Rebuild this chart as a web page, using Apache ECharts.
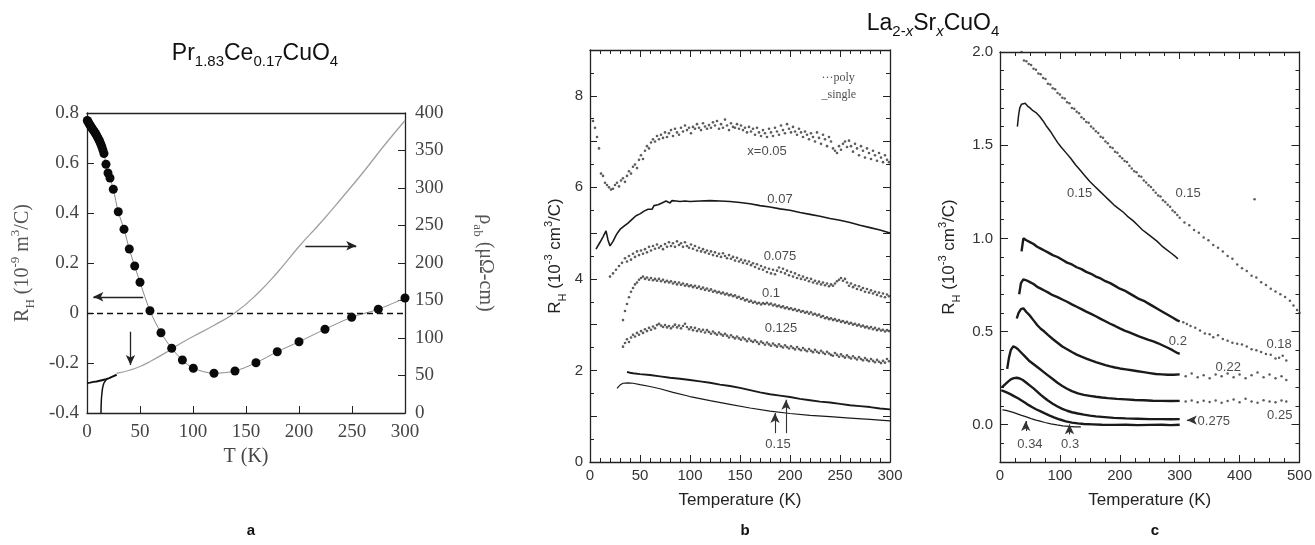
<!DOCTYPE html>
<html><head><meta charset="utf-8">
<script src="https://cdn.jsdelivr.net/npm/echarts@6/dist/echarts.min.js"></script>
<style>html,body{margin:0;padding:0;background:#fff}#c{width:1315px;height:545px}</style>
</head><body><div id="c"></div>
<script>
// ---------- Panel a : Pr1.83Ce0.17CuO4 ----------
const aDotT  = [0.3,1,2,3,4,5,6,7,8,9,10,11,12,13,14,15,16,17.9,19.8,21.7,24.8,29.5,34.9,39.9,45,50,59.4,69.8,79.9,90,100.3,119.8,139.6,159.4,179.5,200,224.5,249.7,274.8,300];
const aDotRH = [0.77,0.765,0.757,0.75,0.744,0.737,0.731,0.725,0.718,0.711,0.703,0.695,0.686,0.676,0.665,0.652,0.638,0.595,0.56,0.54,0.495,0.405,0.335,0.256,0.188,0.123,0.009,-0.079,-0.141,-0.188,-0.221,-0.241,-0.232,-0.199,-0.155,-0.115,-0.065,-0.017,0.015,0.06];
const aRhoT  = [28,40,50,60,75,85,100,120,140,160,180,200,220,240,260,280,300];
const aRho   = [53,57,62,69,81,90,102,117,134,158,188,222,253,286,320,356,390];
const aRhoLowT = [0,3,6,9,12,15,18,21,24,28];
const aRhoLow  = [40,40.5,41.5,42,43,44,45,46.5,48.5,51];
const aDropT = [18,15.5,14,13.4,13.2];
const aDrop  = [44,38,25,12,0];
const aTicksLeft = [-0.4,0.8,0.2];
const aTicksRight = [0,400,50];

// ---------- Panel b : La2-xSrxCuO4, 0..300 K ----------
const b005 = [[3,7.45],[5,7.3],[7,7.1],[9,6.85],[11,6.3],[13,6.25],[15,6.1],[17,6.05],[19,6.0],[21,5.95],[23,5.97],[25,6.05],[27,6.1],[29,6.02],[31,6.15],[33,6.2],[35,6.12],[37,6.25],[39,6.35],[41,6.3],[43,6.45],[45,6.5],[47,6.42],[49,6.6],[51,6.7],[53,6.62],[55,6.8],[57,6.9],[59,6.85],[61,6.98],[63,7.05],[65,7.0],[67,7.12],[69,7.05],[71,7.15],[73,7.08],[75,7.2],[77,7.1],[79,7.18],[81,7.25],[83,7.12],[85,7.28],[87,7.2],[89,7.15],[91,7.3],[93,7.22],[95,7.35],[97,7.25],[99,7.3],[101,7.18],[103,7.32],[105,7.28],[107,7.38],[109,7.3],[111,7.25],[113,7.4],[115,7.33],[117,7.28],[119,7.36],[121,7.3],[123,7.42],[125,7.35],[127,7.45],[129,7.28],[131,7.38],[133,7.3],[135,7.48],[137,7.35],[139,7.25],[141,7.4],[143,7.32],[145,7.3],[147,7.38],[149,7.28],[151,7.35],[153,7.25],[155,7.3],[157,7.2],[159,7.32],[161,7.22],[163,7.28],[165,7.15],[167,7.3],[169,7.2],[171,7.12],[173,7.25],[175,7.18],[177,7.1],[179,7.28],[181,7.2],[183,7.12],[185,7.3],[187,7.22],[189,7.15],[191,7.35],[193,7.25],[195,7.18],[197,7.38],[199,7.28],[201,7.2],[203,7.32],[205,7.22],[207,7.15],[209,7.28],[211,7.2],[213,7.1],[215,7.22],[217,7.15],[219,7.05],[221,7.18],[223,7.1],[225,7.0],[227,7.2],[229,7.08],[231,6.95],[233,7.15],[235,7.05],[237,6.9],[239,7.1],[241,7.0],[243,6.85],[245,6.8],[247,6.75],[249,6.9],[251,6.82],[253,6.95],[255,7.0],[257,6.88],[259,7.02],[261,6.9],[263,6.78],[265,6.95],[267,6.85],[269,6.7],[271,6.9],[273,6.8],[275,6.65],[277,6.85],[279,6.75],[281,6.62],[283,6.8],[285,6.7],[287,6.58],[289,6.75],[291,6.65],[293,6.55],[295,6.7],[297,6.6],[299,6.55]];
const b007 = [[6,4.65],[10,4.8],[13,4.92],[16,5.05],[18,4.85],[20,4.72],[23,4.82],[26,4.95],[28,5.02],[30,5.08],[32,5.05],[34,5.15],[36,5.12],[38,5.22],[40,5.18],[42,5.3],[44,5.26],[46,5.38],[48,5.34],[50,5.42],[52,5.38],[54,5.48],[56,5.45],[58,5.52],[60,5.55],[62,5.52],[64,5.6],[66,5.58],[68,5.62],[70,5.6],[72,5.66],[74,5.63],[76,5.7],[78,5.68],[80,5.66],[82,5.71],[84,5.68],[86,5.7],[88,5.67],[90,5.69],[95,5.7],[100,5.69],[110,5.7],[120,5.71],[130,5.7],[140,5.69],[150,5.67],[160,5.64],[170,5.6],[180,5.57],[190,5.53],[200,5.5],[210,5.45],[220,5.41],[230,5.37],[240,5.32],[250,5.28],[260,5.23],[270,5.17],[280,5.12],[290,5.07],[300,5.0]];
const b0075 = [[20,4.05],[23,4.12],[26,4.2],[29,4.28],[32,4.35],[35,4.45],[37,4.38],[39,4.5],[41,4.42],[43,4.55],[45,4.48],[47,4.6],[49,4.52],[51,4.62],[53,4.55],[55,4.65],[57,4.58],[59,4.7],[61,4.62],[63,4.72],[65,4.66],[67,4.75],[69,4.68],[71,4.72],[73,4.65],[75,4.76],[77,4.7],[79,4.8],[81,4.72],[83,4.78],[85,4.7],[87,4.82],[89,4.74],[91,4.78],[93,4.7],[95,4.8],[97,4.72],[99,4.68],[101,4.75],[103,4.66],[105,4.72],[107,4.62],[109,4.68],[111,4.6],[113,4.65],[115,4.58],[117,4.62],[119,4.55],[121,4.6],[123,4.52],[125,4.58],[127,4.5],[129,4.55],[131,4.48],[133,4.56],[135,4.5],[137,4.45],[139,4.52],[141,4.44],[143,4.48],[145,4.4],[147,4.46],[149,4.38],[151,4.42],[153,4.35],[155,4.4],[157,4.33],[159,4.38],[161,4.3],[163,4.34],[165,4.26],[167,4.32],[169,4.22],[171,4.28],[173,4.2],[175,4.25],[177,4.15],[179,4.22],[181,4.12],[183,4.2],[185,4.1],[187,4.18],[189,4.25],[191,4.15],[193,4.22],[195,4.12],[197,4.18],[199,4.08],[201,4.15],[203,4.05],[205,4.12],[207,4.02],[209,4.08],[211,4.0],[213,4.05],[215,3.98],[217,4.02],[219,3.95],[221,4.0],[223,3.92],[225,3.96],[227,3.9],[229,3.94],[231,3.88],[233,3.92],[235,3.86],[237,3.9],[239,3.84],[241,3.88],[243,3.85],[245,3.9],[247,3.95],[249,3.98],[251,4.02],[253,3.96],[255,4.0],[257,3.92],[259,3.85],[261,3.9],[263,3.82],[265,3.86],[267,3.78],[269,3.84],[271,3.76],[273,3.8],[275,3.72],[277,3.78],[279,3.7],[281,3.75],[283,3.68],[285,3.72],[287,3.65],[289,3.7],[291,3.62],[293,3.68],[295,3.6],[297,3.66],[299,3.62]];
const b01 = [[33,3.1],[35,3.3],[37,3.45],[39,3.6],[41,3.72],[43,3.8],[45,3.88],[47,3.92],[49,3.98],[51,4.02],[53,4.05],[55,4.0],[57,4.03],[59,3.98],[61,4.02],[63,3.97],[65,4.0],[67,3.96],[69,4.0],[71,3.95],[73,3.98],[75,3.93],[77,3.96],[79,3.92],[81,3.95],[83,3.9],[85,3.93],[87,3.88],[89,3.92],[91,3.87],[93,3.9],[95,3.85],[97,3.88],[99,3.84],[101,3.86],[103,3.82],[105,3.85],[107,3.8],[109,3.83],[111,3.78],[113,3.81],[115,3.76],[117,3.79],[119,3.74],[121,3.77],[123,3.72],[125,3.74],[127,3.7],[129,3.72],[131,3.68],[133,3.7],[135,3.66],[137,3.68],[139,3.64],[141,3.66],[143,3.62],[145,3.64],[147,3.59],[149,3.61],[151,3.56],[153,3.58],[155,3.53],[157,3.55],[159,3.5],[161,3.52],[163,3.48],[165,3.5],[167,3.46],[169,3.48],[171,3.44],[173,3.47],[175,3.45],[177,3.48],[179,3.44],[181,3.46],[183,3.42],[185,3.44],[187,3.4],[189,3.42],[191,3.38],[193,3.4],[195,3.36],[197,3.38],[199,3.34],[201,3.36],[203,3.32],[205,3.34],[207,3.3],[209,3.32],[211,3.28],[213,3.3],[215,3.26],[217,3.28],[219,3.24],[221,3.27],[223,3.22],[225,3.24],[227,3.2],[229,3.22],[231,3.17],[233,3.19],[235,3.14],[237,3.16],[239,3.12],[241,3.14],[243,3.1],[245,3.12],[247,3.08],[249,3.1],[251,3.06],[253,3.08],[255,3.04],[257,3.06],[259,3.02],[261,3.04],[263,3.0],[265,3.02],[267,2.98],[269,3.0],[271,2.96],[273,2.98],[275,2.94],[277,2.96],[279,2.92],[281,2.95],[283,2.9],[285,2.93],[287,2.88],[289,2.91],[291,2.87],[293,2.89],[295,2.85],[297,2.88],[299,2.86]];
const b0125 = [[33,2.52],[35,2.6],[37,2.68],[39,2.62],[41,2.72],[43,2.78],[45,2.74],[47,2.82],[49,2.78],[51,2.86],[53,2.82],[55,2.9],[57,2.86],[59,2.93],[61,2.89],[63,2.96],[65,2.92],[67,2.99],[69,3.02],[71,2.98],[73,2.95],[75,2.99],[77,2.94],[79,2.97],[81,2.92],[83,2.96],[85,3.0],[87,2.94],[89,2.98],[91,2.92],[93,2.97],[95,3.02],[97,2.95],[99,2.9],[101,2.94],[103,2.88],[105,2.93],[107,2.86],[109,2.9],[111,2.85],[113,2.89],[115,2.83],[117,2.88],[119,2.84],[121,2.8],[123,2.85],[125,2.81],[127,2.78],[129,2.83],[131,2.79],[133,2.76],[135,2.8],[137,2.76],[139,2.72],[141,2.77],[143,2.73],[145,2.7],[147,2.74],[149,2.7],[151,2.67],[153,2.72],[155,2.68],[157,2.64],[159,2.69],[161,2.65],[163,2.62],[165,2.66],[167,2.62],[169,2.58],[171,2.63],[173,2.6],[175,2.56],[177,2.61],[179,2.57],[181,2.54],[183,2.59],[185,2.55],[187,2.52],[189,2.57],[191,2.53],[193,2.5],[195,2.55],[197,2.51],[199,2.48],[201,2.53],[203,2.49],[205,2.46],[207,2.51],[209,2.47],[211,2.44],[213,2.49],[215,2.45],[217,2.42],[219,2.47],[221,2.43],[223,2.4],[225,2.45],[227,2.41],[229,2.38],[231,2.43],[233,2.39],[235,2.36],[237,2.41],[239,2.37],[241,2.34],[243,2.32],[245,2.38],[247,2.34],[249,2.3],[251,2.35],[253,2.31],[255,2.28],[257,2.33],[259,2.29],[261,2.26],[263,2.31],[265,2.27],[267,2.24],[269,2.29],[271,2.25],[273,2.22],[275,2.27],[277,2.23],[279,2.2],[281,2.25],[283,2.21],[285,2.18],[287,2.23],[289,2.19],[291,2.16],[293,2.21],[295,2.17],[297,2.25],[299,2.2]];
const b015a = [[37,1.97],[40,1.95],[43,1.94],[50,1.92],[60,1.9],[70,1.87],[80,1.84],[90,1.82],[100,1.79],[110,1.76],[120,1.73],[130,1.69],[140,1.66],[150,1.62],[160,1.57],[170,1.52],[180,1.48],[190,1.45],[200,1.42],[210,1.38],[220,1.35],[230,1.32],[240,1.3],[250,1.27],[260,1.24],[270,1.22],[280,1.2],[290,1.17],[300,1.15]];
const b015b = [[27,1.61],[30,1.68],[33,1.72],[38,1.73],[43,1.72],[50,1.69],[60,1.65],[70,1.6],[83,1.52],[100,1.43],[120,1.34],[140,1.26],[160,1.18],[180,1.11],[200,1.06],[220,1.02],[240,0.99],[260,0.96],[280,0.93],[300,0.9]];
const bLabels = [['x=0.05',177,6.78],['0.07',190,5.73],['0.075',190,4.5],['0.1',181,3.69],['0.125',191,2.92],['0.15',188,0.39]];
const bLegend = [['···poly',231,8.39],['_single',231,8.02]];

// ---------- Panel c : La2-xSrxCuO4, 0..500 K ----------
const c015p = [[36,2.0],[40,1.955],[44,1.95],[48,1.935],[52,1.93],[56,1.91],[60,1.905],[64,1.885],[68,1.88],[72,1.86],[76,1.855],[80,1.83],[84,1.825],[88,1.805],[92,1.8],[96,1.78],[100,1.772],[104,1.755],[108,1.75],[112,1.73],[116,1.725],[120,1.7],[124,1.695],[128,1.68],[132,1.672],[136,1.65],[140,1.64],[144,1.625],[148,1.62],[152,1.6],[156,1.59],[160,1.575],[164,1.565],[168,1.545],[172,1.54],[176,1.52],[180,1.51],[184,1.49],[188,1.485],[192,1.465],[196,1.46],[200,1.44],[204,1.43],[208,1.415],[212,1.41],[216,1.39],[220,1.375],[224,1.36],[228,1.355],[232,1.335],[236,1.33],[240,1.31],[244,1.3],[248,1.285],[252,1.275],[256,1.26],[260,1.245],[264,1.23],[268,1.225],[272,1.205],[276,1.195],[280,1.18],[284,1.17],[288,1.15],[292,1.14],[296,1.125],[300,1.11],[308,1.085],[316,1.07],[324,1.045],[332,1.03],[340,1.005],[348,0.99],[356,0.965],[364,0.95],[372,0.93],[380,0.905],[388,0.89],[396,0.86],[404,0.84],[412,0.825],[420,0.8],[425,1.21],[428,0.79],[436,0.765],[444,0.75],[452,0.73],[460,0.715],[468,0.7],[476,0.685],[484,0.665],[490,0.64],[496,0.615],[500,0.6]];
const c015s = [[29,1.6],[31,1.66],[33,1.7],[36,1.72],[39,1.73],[42,1.725],[46,1.71],[50,1.7],[55,1.685],[60,1.675],[66,1.655],[72,1.63],[78,1.6],[84,1.575],[90,1.545],[96,1.515],[102,1.49],[110,1.46],[118,1.43],[126,1.395],[134,1.365],[142,1.335],[150,1.305],[158,1.28],[166,1.255],[174,1.23],[182,1.205],[190,1.18],[198,1.16],[206,1.14],[214,1.115],[222,1.095],[230,1.07],[238,1.045],[246,1.025],[254,1.005],[262,0.985],[270,0.96],[278,0.94],[286,0.92],[292,0.905],[297,0.89]];
const c018 = [[36,0.93],[39,1.0],[44,0.99],[50,0.98],[56,0.97],[62,0.955],[68,0.945],[74,0.935],[80,0.925],[88,0.91],[96,0.9],[104,0.885],[112,0.87],[120,0.86],[128,0.845],[136,0.835],[144,0.82],[152,0.81],[160,0.795],[168,0.785],[176,0.77],[184,0.76],[192,0.745],[200,0.73],[208,0.72],[216,0.705],[224,0.69],[232,0.675],[240,0.665],[248,0.65],[256,0.635],[264,0.62],[272,0.605],[280,0.59],[288,0.575],[296,0.56],[300,0.555]];
const c018hi = [[306,0.55],[312,0.54],[318,0.53],[326,0.52],[334,0.505],[342,0.49],[350,0.485],[356,0.47],[364,0.48],[372,0.46],[380,0.45],[388,0.44],[396,0.435],[404,0.43],[412,0.42],[420,0.405],[428,0.4],[436,0.39],[444,0.38],[452,0.375],[460,0.355],[466,0.36],[472,0.37],[478,0.345]];
const c02 = [[32,0.7],[35,0.76],[39,0.78],[44,0.775],[50,0.765],[56,0.755],[62,0.74],[68,0.73],[74,0.72],[80,0.71],[88,0.695],[96,0.685],[104,0.672],[112,0.66],[120,0.646],[128,0.633],[136,0.62],[144,0.607],[152,0.595],[160,0.582],[168,0.568],[176,0.555],[184,0.542],[192,0.53],[200,0.517],[208,0.505],[216,0.495],[224,0.485],[232,0.474],[240,0.465],[248,0.455],[256,0.447],[264,0.437],[272,0.425],[280,0.413],[288,0.4],[296,0.385],[300,0.38]];
const c022 = [[28,0.57],[31,0.6],[35,0.62],[39,0.625],[44,0.605],[50,0.585],[56,0.56],[62,0.535],[68,0.515],[74,0.5],[80,0.482],[88,0.46],[96,0.44],[104,0.42],[112,0.405],[120,0.39],[128,0.376],[136,0.365],[144,0.355],[152,0.345],[160,0.336],[168,0.328],[176,0.32],[184,0.313],[192,0.307],[200,0.302],[210,0.297],[220,0.292],[230,0.287],[240,0.282],[250,0.277],[260,0.272],[270,0.27],[280,0.268],[290,0.268],[300,0.27]];
const c022hi = [[310,0.26],[320,0.275],[330,0.255],[340,0.265],[350,0.25],[360,0.27],[370,0.26],[380,0.275],[390,0.255],[400,0.27],[410,0.25],[420,0.265],[430,0.28],[440,0.255],[450,0.27],[460,0.25],[470,0.26],[478,0.24]];
const c025 = [[12,0.3],[15,0.36],[18,0.4],[22,0.42],[26,0.415],[30,0.405],[36,0.385],[42,0.365],[48,0.345],[54,0.33],[60,0.315],[66,0.3],[72,0.285],[80,0.265],[88,0.245],[96,0.225],[104,0.208],[112,0.193],[120,0.18],[130,0.168],[140,0.16],[150,0.155],[160,0.15],[170,0.146],[180,0.143],[195,0.139],[210,0.136],[225,0.133],[240,0.131],[255,0.129],[270,0.128],[285,0.127],[300,0.128]];
const c025hi = [[310,0.125],[320,0.13],[330,0.12],[340,0.128],[350,0.122],[360,0.13],[370,0.118],[380,0.127],[390,0.135],[400,0.12],[410,0.14],[420,0.125],[430,0.118],[440,0.132],[450,0.125],[460,0.12],[470,0.13],[478,0.125]];
const c0275 = [[3,0.2],[8,0.215],[13,0.23],[18,0.243],[23,0.25],[28,0.252],[33,0.248],[38,0.24],[44,0.225],[50,0.21],[56,0.195],[62,0.178],[68,0.16],[74,0.145],[80,0.13],[88,0.113],[96,0.098],[104,0.085],[112,0.075],[120,0.067],[130,0.06],[140,0.054],[150,0.049],[160,0.045],[175,0.041],[190,0.037],[210,0.034],[230,0.032],[250,0.03],[270,0.03],[285,0.029],[300,0.03]];
const c03 = [[2,0.185],[6,0.18],[12,0.172],[18,0.163],[24,0.152],[30,0.142],[36,0.13],[42,0.118],[48,0.105],[54,0.094],[60,0.083],[67,0.073],[74,0.062],[82,0.05],[90,0.04],[100,0.028],[110,0.018],[120,0.011],[130,0.007],[140,0.004],[155,0.002],[170,0],[190,-0.001],[210,0],[230,-0.002],[250,-0.001],[270,0],[285,-0.002],[300,0]];
const c034 = [[4,0.08],[10,0.077],[16,0.072],[22,0.066],[29,0.058],[36,0.05],[44,0.042],[52,0.033],[60,0.025],[67,0.019],[75,0.012],[85,0.005],[95,-0.001],[105,-0.006],[115,-0.009],[125,-0.011],[135,-0.012]];
const cLabels = [['0.15',133,1.24],['0.15',314,1.24],['0.2',297,0.447],['0.18',466,0.429],['0.22',381,0.308],['0.25',467,0.05],['0.275',357,0.02],['0.34',50,-0.105],['0.3',117,-0.105]];
const cMajorY = [0,0.5,1,1.5,2];

const pairs = (xs, ys) => xs.map((x, i) => [x, ys[i]]);

const serif = '"Liberation Serif", "DejaVu Serif", serif';
const sans = '"Liberation Sans", Arial, sans-serif';
const ink = '#1a1a1a';

function mark(from, to) {
  return [{coord: from, symbol: 'none'}, {coord: to, symbol: 'arrow', symbolSize: [7, 10]}];
}
function labelSeries(list, xi, yi, font, size, align) {
  return {
    type: 'scatter', xAxisIndex: xi, yAxisIndex: yi, symbolSize: 1, silent: true,
    itemStyle: {color: 'rgba(0,0,0,0)'}, z: 5,
    data: list.map(l => ({name: l[0], value: [l[1], l[2]]})),
    label: {show: true, position: align === 'left' ? 'right' : 'inside', distance: 0, formatter: p => p.name,
      fontFamily: font, fontSize: size, color: '#1c1c1c'}
  };
}
function rhName(font, size, color, exp) {
  return {
    text: '{n|R}{sb|H}{n| (10}{sp|' + exp + '}{n| ' + (exp === '-9' ? 'm' : 'cm') + '}{sp|3}{n|/C)}',
    style: {rich: {
      n: {fontFamily: font, fontSize: size, color: color, lineHeight: size + 8},
      sb: {fontFamily: font, fontSize: Math.round(size * 0.65), color: color, verticalAlign: 'bottom', lineHeight: Math.round(size * 0.7)},
      sp: {fontFamily: font, fontSize: Math.round(size * 0.65), color: color, verticalAlign: 'top', lineHeight: Math.round(size * 0.7)}
    }}
  };
}

const axLine = {show: true, onZero: false, lineStyle: {color: '#222', width: 1.3}};
function mirrorX(grid, max, interval, split) {
  return {gridIndex: grid, type: 'value', position: 'top', min: 0, max: max, interval: interval,
    axisLine: axLine, axisLabel: {show: false}, splitLine: {show: false},
    axisTick: {show: split > 0, inside: true, length: 7, lineStyle: {color: '#222'}},
    minorTick: {show: split > 0, splitNumber: split || 5, length: 4, lineStyle: {color: '#222'}}};
}

const nA = rhName(serif, 20, '#555', '-9');
const nB = rhName(sans, 17, '#222', '-3');
const titleRich = {
  n: {fontFamily: sans, fontSize: 23, fontWeight: 'normal', color: '#111', lineHeight: 30},
  s: {fontFamily: sans, fontSize: 15, fontWeight: 'normal', color: '#111', verticalAlign: 'bottom', lineHeight: 15},
  si: {fontFamily: sans, fontSize: 15, fontWeight: 'normal', fontStyle: 'italic', color: '#111', verticalAlign: 'bottom', lineHeight: 15}
};

const option = {
  animation: false,
  backgroundColor: '#fff',
  title: [
    {text: '{n|Pr}{s|1.83}{n|Ce}{s|0.17}{n|CuO}{s|4}', left: 250, top: 34, textAlign: 'center',
      textStyle: {fontWeight: 'normal', rich: titleRich}},
    {text: '{n|La}{s|2-}{si|x}{n|Sr}{si|x}{n|CuO}{s|4}', left: 928, top: 4, textAlign: 'center',
      textStyle: {fontWeight: 'normal', rich: titleRich}},
    {text: 'a', left: 246, top: 518, textAlign: 'center', textStyle: {fontFamily: sans, fontWeight: 'bold', fontSize: 15, color: '#111'}},
    {text: 'b', left: 740, top: 518, textAlign: 'center', textStyle: {fontFamily: sans, fontWeight: 'bold', fontSize: 15, color: '#111'}},
    {text: 'c', left: 1150, top: 518, textAlign: 'center', textStyle: {fontFamily: sans, fontWeight: 'bold', fontSize: 15, color: '#111'}}
  ],
  grid: [
    {left: 87, top: 113, width: 318, height: 300},
    {left: 590, top: 50, width: 300, height: 412},
    {left: 1000, top: 52, width: 300, height: 410}
  ],
  xAxis: [
    {gridIndex: 0, type: 'value', min: 0, max: 300, interval: 50, axisLine: axLine, splitLine: {show: false},
      axisTick: {inside: true, length: 7, lineStyle: {color: '#222'}},
      axisLabel: {fontFamily: serif, fontSize: 19, color: '#444', margin: 10},
      name: 'T (K)', nameLocation: 'middle', nameGap: 34, nameTextStyle: {fontFamily: serif, fontSize: 20, color: '#444'}},
    mirrorX(0, 300, 50, 0),
    {gridIndex: 1, type: 'value', min: 0, max: 300, interval: 50, axisLine: axLine, splitLine: {show: false},
      axisTick: {inside: true, length: 7, lineStyle: {color: '#222'}},
      minorTick: {show: true, splitNumber: 5, length: 4, lineStyle: {color: '#222'}},
      axisLabel: {fontFamily: sans, fontSize: 15, color: '#333', margin: 6},
      name: 'Temperature (K)', nameLocation: 'middle', nameGap: 30, nameTextStyle: {fontFamily: sans, fontSize: 17, color: '#222'}},
    mirrorX(1, 300, 50, 5),
    {gridIndex: 2, type: 'value', min: 0, max: 500, interval: 100, axisLine: axLine, splitLine: {show: false},
      axisTick: {inside: true, length: 7, lineStyle: {color: '#222'}},
      minorTick: {show: true, splitNumber: 4, length: 4, lineStyle: {color: '#222'}},
      axisLabel: {fontFamily: sans, fontSize: 15, color: '#333', margin: 6},
      name: 'Temperature (K)', nameLocation: 'middle', nameGap: 30, nameTextStyle: {fontFamily: sans, fontSize: 17, color: '#222'}},
    mirrorX(2, 500, 100, 4)
  ],
  yAxis: [
    {gridIndex: 0, type: 'value', position: 'left', min: aTicksLeft[0], max: aTicksLeft[1], interval: aTicksLeft[2],
      axisLine: axLine, splitLine: {show: false}, axisTick: {inside: true, length: 7, lineStyle: {color: '#222'}},
      axisLabel: {fontFamily: serif, fontSize: 19, color: '#444', margin: 8,
        formatter: v => Math.abs(v) < 1e-9 ? '0' : v.toFixed(1)},
      name: nA.text, nameLocation: 'middle', nameGap: 50, nameTextStyle: nA.style},
    {gridIndex: 0, type: 'value', position: 'right', min: aTicksRight[0], max: aTicksRight[1], interval: aTicksRight[2],
      axisLine: axLine, splitLine: {show: false}, axisTick: {inside: true, length: 7, lineStyle: {color: '#222'}},
      axisLabel: {fontFamily: serif, fontSize: 19, color: '#444', margin: 10},
      name: '{n|ρ}{sb|ab}{n| (μΩ-cm)}', nameLocation: 'middle', nameGap: 66, nameRotate: -90,
      nameTextStyle: {rich: {n: {fontFamily: serif, fontSize: 20, color: '#555', lineHeight: 28},
        sb: {fontFamily: serif, fontSize: 13, color: '#555', verticalAlign: 'bottom', lineHeight: 14}}}},
    {gridIndex: 1, type: 'value', position: 'left', min: 0, max: 9, interval: 1,
      axisLine: axLine, splitLine: {show: false}, axisTick: {inside: true, length: 7, lineStyle: {color: '#222'}},
      minorTick: {show: true, splitNumber: 2, length: 4, lineStyle: {color: '#222'}},
      axisLabel: {fontFamily: sans, fontSize: 15, color: '#333', margin: 7, customValues: [0, 2, 4, 6, 8]},
      name: nB.text, nameLocation: 'middle', nameGap: 22, nameTextStyle: nB.style},
    {gridIndex: 1, type: 'value', position: 'right', min: 0, max: 9, interval: 1,
      axisLine: axLine, splitLine: {show: false}, axisTick: {inside: true, length: 7, lineStyle: {color: '#222'}},
      minorTick: {show: true, splitNumber: 2, length: 4, lineStyle: {color: '#222'}}, axisLabel: {show: false}},
    {gridIndex: 2, type: 'value', position: 'left', min: -0.2, max: 2.0, interval: 0.1,
      axisLine: axLine, splitLine: {show: false}, axisTick: {inside: true, length: 4, lineStyle: {color: '#222'}},
      axisLabel: {fontFamily: sans, fontSize: 15, color: '#333', margin: 7, customValues: cMajorY, formatter: v => v.toFixed(1)},
      name: nB.text, nameLocation: 'middle', nameGap: 38, nameTextStyle: nB.style},
    {gridIndex: 2, type: 'value', position: 'left', min: -0.2, max: 2.0, interval: 0.1,
      axisLine: {show: false, onZero: false}, splitLine: {show: false}, axisLabel: {show: false},
      axisTick: {inside: true, length: 8, customValues: cMajorY, lineStyle: {color: '#222'}}},
    {gridIndex: 2, type: 'value', position: 'right', min: -0.2, max: 2.0, interval: 0.1,
      axisLine: axLine, splitLine: {show: false}, axisLabel: {show: false},
      axisTick: {inside: true, length: 4, lineStyle: {color: '#222'}}},
    {gridIndex: 2, type: 'value', position: 'right', min: -0.2, max: 2.0, interval: 0.1,
      axisLine: {show: false, onZero: false}, splitLine: {show: false}, axisLabel: {show: false},
      axisTick: {inside: true, length: 8, customValues: cMajorY, lineStyle: {color: '#222'}}}
  ],
  series: [
    // panel a
    {type: 'line', name: 'rho', xAxisIndex: 0, yAxisIndex: 1, data: pairs(aRhoT, aRho), smooth: true, symbol: 'none',
      lineStyle: {color: '#a0a0a0', width: 1.3}},
    {type: 'line', name: 'rhoLow', xAxisIndex: 0, yAxisIndex: 1, data: pairs(aRhoLowT, aRhoLow), symbol: 'none',
      lineStyle: {color: '#111', width: 2}},
    {type: 'line', name: 'rhoDrop', xAxisIndex: 0, yAxisIndex: 1, data: pairs(aDropT, aDrop), smooth: true, symbol: 'none',
      lineStyle: {color: '#111', width: 1.5}},
    {type: 'line', name: 'RH', xAxisIndex: 0, yAxisIndex: 0, data: pairs(aDotT, aDotRH), smooth: 0.3,
      symbol: 'circle', symbolSize: 9, itemStyle: {color: '#0a0a0a'}, lineStyle: {color: '#8a8a8a', width: 1}, z: 3,
      markLine: {silent: true, symbol: ['none', 'none'], label: {show: false}, animation: false,
        data: [
          {yAxis: 0, lineStyle: {type: [6, 4], color: '#111', width: 1.3}},
          mark([53, 0.065], [6, 0.065]),
          mark([206, 0.269], [254, 0.269]),
          mark([41, -0.075], [41, -0.208])
        ], lineStyle: {type: 'solid', color: '#222', width: 1.3}}},
    // panel b
    {type: 'scatter', xAxisIndex: 2, yAxisIndex: 2, data: b005, symbolSize: 2.6, itemStyle: {color: '#333'}},
    {type: 'scatter', xAxisIndex: 2, yAxisIndex: 2, data: b0075, symbolSize: 2.6, itemStyle: {color: '#333'}},
    {type: 'scatter', xAxisIndex: 2, yAxisIndex: 2, data: b01, symbolSize: 2.6, itemStyle: {color: '#333'}},
    {type: 'scatter', xAxisIndex: 2, yAxisIndex: 2, data: b0125, symbolSize: 2.6, itemStyle: {color: '#333'}},
    {type: 'line', xAxisIndex: 2, yAxisIndex: 2, data: b007, symbol: 'none', lineStyle: {color: ink, width: 1.6}},
    {type: 'line', xAxisIndex: 2, yAxisIndex: 2, data: b015a, symbol: 'none', lineStyle: {color: ink, width: 1.9}},
    {type: 'line', xAxisIndex: 2, yAxisIndex: 2, data: b015b, symbol: 'none', lineStyle: {color: ink, width: 1.2},
      markLine: {silent: true, symbol: ['none', 'none'], label: {show: false}, animation: false,
        lineStyle: {type: 'solid', color: '#333', width: 1.1},
        data: [mark([185, 0.63], [185, 1.07]), mark([196, 0.63], [196, 1.36])]}},
    labelSeries(bLabels, 2, 2, sans, 13),
    labelSeries(bLegend, 2, 2, serif, 12, 'left'),
    // panel c
    {type: 'scatter', xAxisIndex: 4, yAxisIndex: 4, data: c015p, symbolSize: 2.5, itemStyle: {color: '#333'}},
    {type: 'scatter', xAxisIndex: 4, yAxisIndex: 4, data: c018hi, symbolSize: 2.5, itemStyle: {color: '#333'}},
    {type: 'scatter', xAxisIndex: 4, yAxisIndex: 4, data: c022hi, symbolSize: 2.5, itemStyle: {color: '#333'}},
    {type: 'scatter', xAxisIndex: 4, yAxisIndex: 4, data: c025hi, symbolSize: 2.5, itemStyle: {color: '#333'}},
    {type: 'line', xAxisIndex: 4, yAxisIndex: 4, data: c015s, symbol: 'none', lineStyle: {color: ink, width: 1.5}},
    {type: 'line', xAxisIndex: 4, yAxisIndex: 4, data: c018, symbol: 'none', lineStyle: {color: ink, width: 2.4}},
    {type: 'line', xAxisIndex: 4, yAxisIndex: 4, data: c02, symbol: 'none', lineStyle: {color: ink, width: 2.4}},
    {type: 'line', xAxisIndex: 4, yAxisIndex: 4, data: c022, symbol: 'none', lineStyle: {color: ink, width: 2.4}},
    {type: 'line', xAxisIndex: 4, yAxisIndex: 4, data: c025, symbol: 'none', lineStyle: {color: ink, width: 2.4}},
    {type: 'line', xAxisIndex: 4, yAxisIndex: 4, data: c0275, symbol: 'none', lineStyle: {color: ink, width: 2.4}},
    {type: 'line', xAxisIndex: 4, yAxisIndex: 4, data: c03, symbol: 'none', lineStyle: {color: ink, width: 2.4}},
    {type: 'line', xAxisIndex: 4, yAxisIndex: 4, data: c034, symbol: 'none', lineStyle: {color: ink, width: 1.2},
      markLine: {silent: true, symbol: ['none', 'none'], label: {show: false}, animation: false,
        lineStyle: {type: 'solid', color: '#333', width: 1.1},
        data: [mark([43, -0.034], [43, 0.02]), mark([116, -0.052], [116, 0.002]), mark([322, 0.025], [312, 0.025])]}},
    labelSeries(cLabels, 4, 4, sans, 13)
  ]
};

const chart = echarts.init(document.getElementById('c'), null, {renderer: 'canvas'});
chart.setOption(option);
</script>
</body></html>
